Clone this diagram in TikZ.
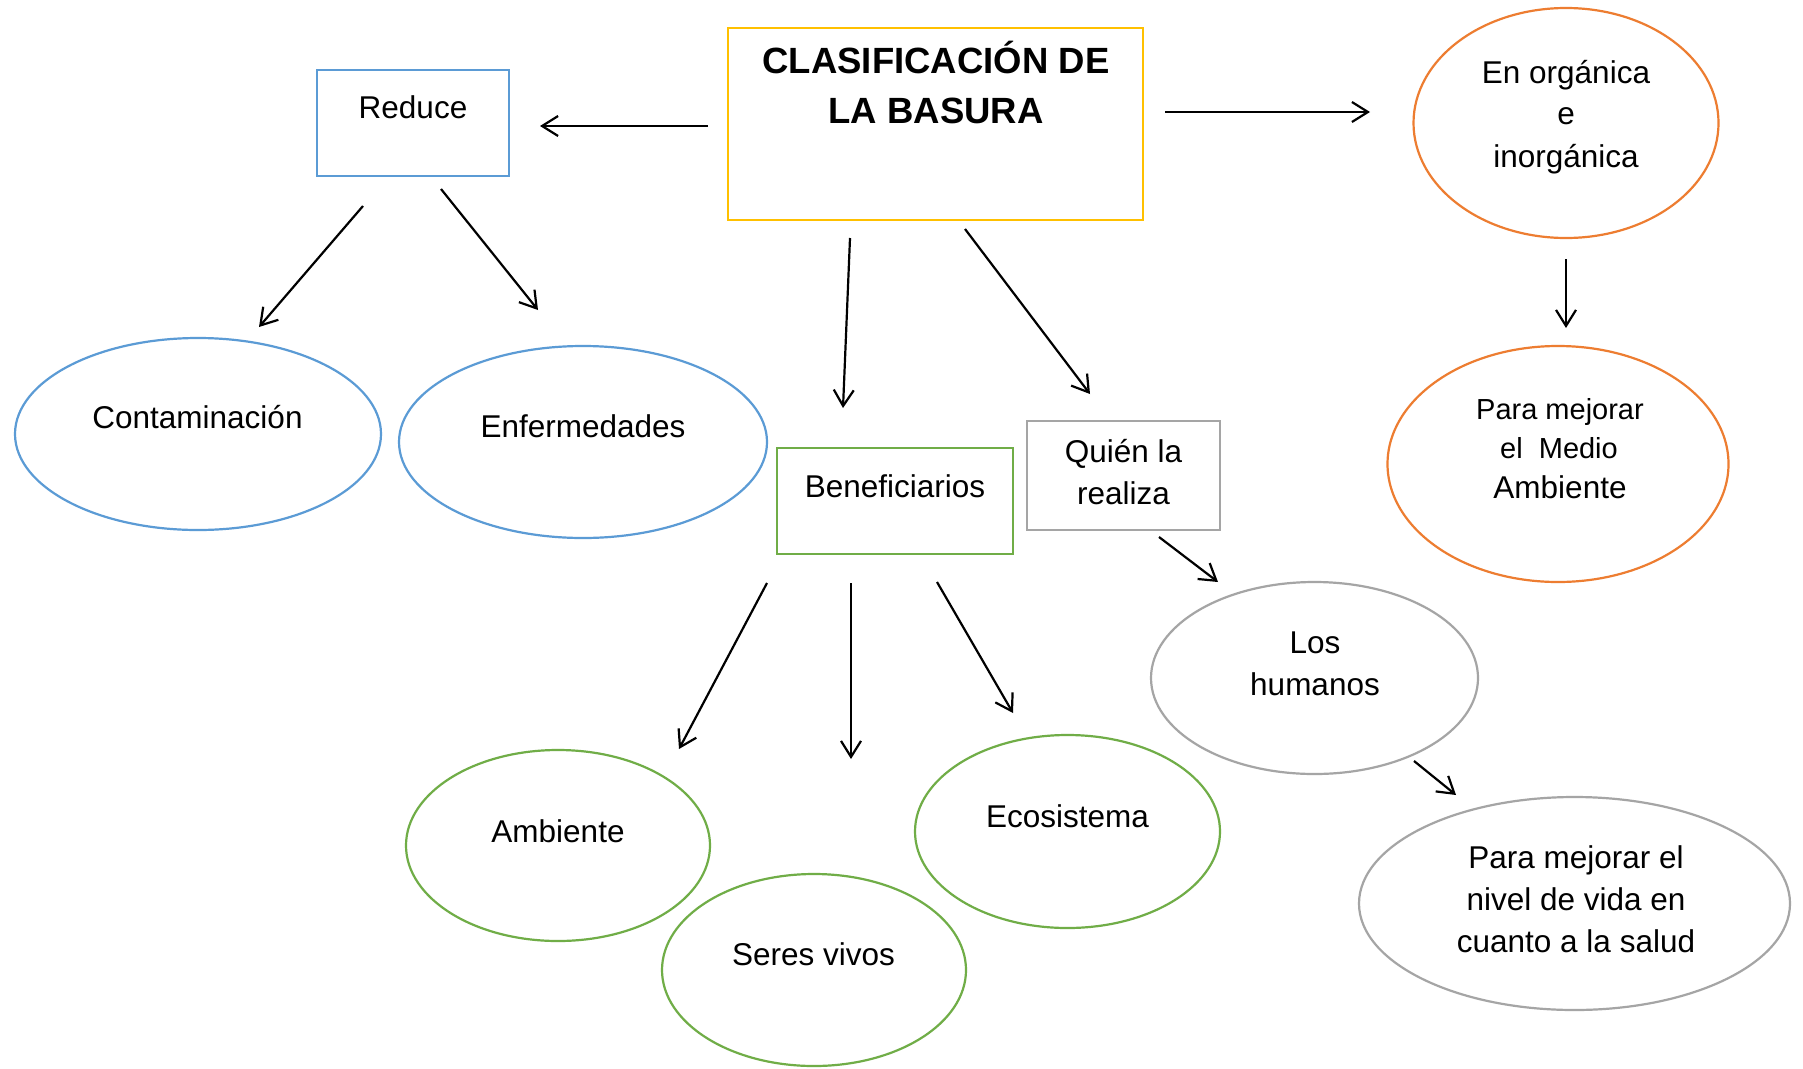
\documentclass[tikz,border=0pt]{standalone}
\usepackage{fontspec}
\setmainfont{Liberation Sans}
\usetikzlibrary{arrows.meta,shapes.geometric}
\definecolor{cblue}{HTML}{5B9BD5}
\definecolor{corange}{HTML}{ED7D31}
\definecolor{cgreen}{HTML}{70AD47}
\definecolor{cgray}{HTML}{A5A5A5}
\definecolor{cyellow}{HTML}{FFC000}
\begin{document}
\begin{tikzpicture}[x=1pt,y=-1pt,
  arr/.style={draw=black, line width=2.2pt, -{Straight Barb[length=16pt,width=20pt]}},
  boxn/.style={draw, rectangle, line width=2.4pt, inner sep=0pt},
  elln/.style={draw, ellipse, line width=2.2pt, inner sep=0pt},
  txt/.style={anchor=base, inner sep=0pt, font=\fontsize{31.5}{38}\selectfont},
  txts/.style={anchor=base, inner sep=0pt, font=\fontsize{29}{35}\selectfont},
  ttl/.style={anchor=base, inner sep=0pt, font=\fontsize{36.5}{44}\selectfont\bfseries},
]
\useasboundingbox (0,0) rectangle (1803,1068);
\fill[white] (0,0) rectangle (1803,1068);

% boxes
\node[boxn, draw=cyellow, minimum width=415pt, minimum height=192pt] (main) at (935.5,124) {};
\node[ttl] (main-t1) at (936,73) {CLASIFICACIÓN DE};
\node[ttl] (main-t2) at (936,123) {LA BASURA};

\node[boxn, draw=cblue, minimum width=192pt, minimum height=106pt] (reduce) at (413,123) {};
\node[txt] (reduce-t) at (413,118) {Reduce};

\node[boxn, draw=cgreen, minimum width=236pt, minimum height=106pt] (benef) at (895,501) {};
\node[txt] (benef-t) at (895,497) {Beneficiarios};

\node[boxn, draw=cgray, minimum width=193pt, minimum height=109pt] (quien) at (1123.5,475.5) {};
\node[txt] (quien-t1) at (1123.5,462) {Quién la};
\node[txt] (quien-t2) at (1123.5,504) {realiza};

% ellipses
\node[elln, draw=cblue, minimum width=366pt, minimum height=192pt] (cont) at (198,434) {};
\node[txt] (cont-t) at (197.5,428) {Contaminación};

\node[elln, draw=cblue, minimum width=368pt, minimum height=192pt] (enf) at (583,442) {};
\node[txt] (enf-t) at (583,437) {Enfermedades};

\node[elln, draw=corange, minimum width=305pt, minimum height=230pt] (org) at (1566,123) {};
\node[txt] (org-t1) at (1566,83) {En orgánica};
\node[txt] (org-t2) at (1566,124) {e};
\node[txt] (org-t3) at (1566,167) {inorgánica};

\node[elln, draw=corange, minimum width=341pt, minimum height=236pt] (medio) at (1558,464) {};
\node[txts] (medio-t1) at (1560,419) {Para mejorar};
\node[txts] (medio-t2) at (1559,458) {el\ \ Medio};
\node[txt] (medio-t3) at (1560,498) {Ambiente};

\node[elln, draw=cgreen, minimum width=304pt, minimum height=191pt] (amb) at (558,845.5) {};
\node[txt] (amb-t) at (558,842) {Ambiente};

\node[elln, draw=cgreen, minimum width=304pt, minimum height=192pt] (seres) at (814,970) {};
\node[txt] (seres-t) at (813.5,965) {Seres vivos};

\node[elln, draw=cgreen, minimum width=305pt, minimum height=193pt] (eco) at (1067.5,831.5) {};
\node[txt] (eco-t) at (1067.5,827) {Ecosistema};

\node[elln, draw=cgray, minimum width=327pt, minimum height=192pt] (hum) at (1314.5,678) {};
\node[txt] (hum-t1) at (1315,653) {Los};
\node[txt] (hum-t2) at (1315,695) {humanos};

\node[elln, draw=cgray, minimum width=431pt, minimum height=213pt] (salud) at (1574.5,903.5) {};
\node[txt] (salud-t1) at (1576,868) {Para mejorar el};
\node[txt] (salud-t2) at (1576,910) {nivel de vida en};
\node[txt] (salud-t3) at (1576,952) {cuanto a la salud};

% connector end points
\coordinate (a1s) at (708,126);   \coordinate (a1e) at (540,126);
\coordinate (a2s) at (363,206);   \coordinate (a2e) at (259,327);
\coordinate (a3s) at (441,189);   \coordinate (a3e) at (538,310);
\coordinate (a4s) at (850,238);   \coordinate (a4e) at (843,408);
\coordinate (a5s) at (965,229);   \coordinate (a5e) at (1090,394);
\coordinate (a6s) at (1165,112);  \coordinate (a6e) at (1370,112);
\coordinate (a7s) at (1566,259);  \coordinate (a7e) at (1566,328);
\coordinate (a8s) at (767,583);   \coordinate (a8e) at (679,749);
\coordinate (a9s) at (851,583);   \coordinate (a9e) at (851,759);
\coordinate (a10s) at (937,582);  \coordinate (a10e) at (1013,713);
\coordinate (a11s) at (1159,537); \coordinate (a11e) at (1218,582);
\coordinate (a12s) at (1414,761); \coordinate (a12e) at (1456,795);

\foreach \i in {1,...,12} {\draw[arr] (a\i s) -- (a\i e);}
\end{tikzpicture}
\end{document}
